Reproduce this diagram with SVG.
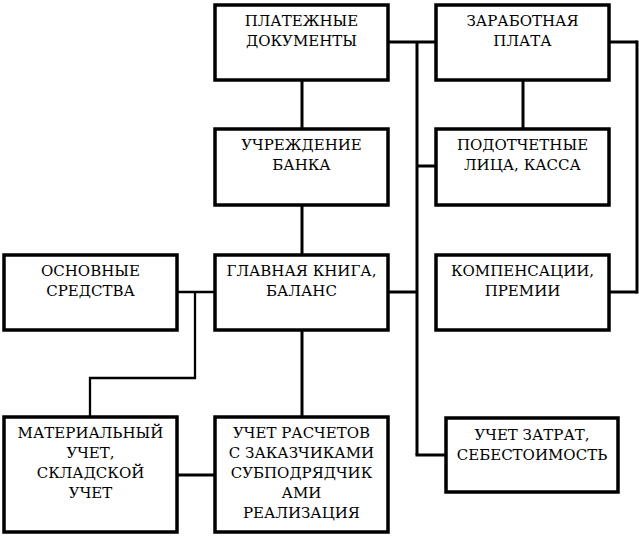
<svg xmlns="http://www.w3.org/2000/svg" width="639" height="536" viewBox="0 0 639 536">
<style>
.box{fill:#fff;stroke:#000;stroke-width:3.5}
.c{fill:none;stroke:#000;stroke-width:3}
.t{stroke-width:2.3}
.lbl{font-family:'DejaVu Serif','Liberation Serif',serif;font-size:15px;text-anchor:middle;fill:#000}
</style>
<rect width="639" height="536" fill="#fff"/>
<g id="connectors">
<line class="c" x1="302" y1="80" x2="302" y2="128"/>
<line class="c" x1="302" y1="205" x2="302" y2="254"/>
<line class="c" x1="302" y1="330" x2="302" y2="416"/>
<line class="c" x1="388" y1="42" x2="436" y2="42"/>
<line class="c" x1="609" y1="42" x2="637" y2="42"/>
<line class="c" x1="637" y1="40.5" x2="637" y2="293.5"/>
<line class="c" x1="609" y1="292" x2="637" y2="292"/>
<line class="c" x1="523" y1="80" x2="523" y2="128"/>
<line class="c" x1="417" y1="42" x2="417" y2="455"/>
<line class="c" x1="417" y1="166" x2="436" y2="166"/>
<line class="c" x1="388" y1="292" x2="417" y2="292"/>
<line class="c" x1="415.5" y1="455" x2="446" y2="455"/>
<line class="c t" x1="177" y1="292" x2="215" y2="292"/>
<polyline class="c t" points="195,292 195,378 90,378 90,416"/>
<line class="c" x1="177" y1="475" x2="215" y2="475"/>
</g>
<g class="lbl">
<g id="platezh">
<rect class="box" x="215" y="5" width="173" height="75"/>
<text x="301.5" y="26">ПЛАТЕЖНЫЕ</text>
<text x="301.5" y="46">ДОКУМЕНТЫ</text>
</g>
<g id="zarplata">
<rect class="box" x="436" y="5" width="173" height="75"/>
<text x="522.5" y="26">ЗАРАБОТНАЯ</text>
<text x="522.5" y="46">ПЛАТА</text>
</g>
<g id="bank">
<rect class="box" x="215" y="129" width="173" height="76"/>
<text x="301.5" y="150">УЧРЕЖДЕНИЕ</text>
<text x="301.5" y="170">БАНКА</text>
</g>
<g id="podotchet">
<rect class="box" x="436" y="129" width="173" height="76"/>
<text x="522.5" y="150">ПОДОТЧЕТНЫЕ</text>
<text x="522.5" y="170">ЛИЦА, КАССА</text>
</g>
<g id="osnovnye">
<rect class="box" x="4" y="255" width="173" height="75"/>
<text x="90.5" y="276">ОСНОВНЫЕ</text>
<text x="90.5" y="296">СРЕДСТВА</text>
</g>
<g id="glavnaya">
<rect class="box" x="215" y="255" width="173" height="75"/>
<text x="301.5" y="276">ГЛАВНАЯ КНИГА,</text>
<text x="301.5" y="296">БАЛАНС</text>
</g>
<g id="kompens">
<rect class="box" x="436" y="255" width="173" height="75"/>
<text x="522.5" y="276">КОМПЕНСАЦИИ,</text>
<text x="522.5" y="296">ПРЕМИИ</text>
</g>
<g id="material">
<rect class="box" x="4" y="417" width="173" height="115"/>
<text x="90.5" y="438">МАТЕРИАЛЬНЫЙ</text>
<text x="90.5" y="458">УЧЕТ,</text>
<text x="90.5" y="478">СКЛАДСКОЙ</text>
<text x="90.5" y="498">УЧЕТ</text>
</g>
<g id="raschety">
<rect class="box" x="215" y="417" width="173" height="115"/>
<text x="301.5" y="438">УЧЕТ РАСЧЕТОВ</text>
<text x="301.5" y="458">С ЗАКАЗЧИКАМИ</text>
<text x="301.5" y="478">СУБПОДРЯДЧИК</text>
<text x="301.5" y="498">АМИ</text>
<text x="301.5" y="518">РЕАЛИЗАЦИЯ</text>
</g>
<g id="zatraty">
<rect class="box" x="446" y="418" width="172" height="74"/>
<text x="532" y="440">УЧЕТ ЗАТРАТ,</text>
<text x="532" y="460">СЕБЕСТОИМОСТЬ</text>
</g>
</g>
</svg>
